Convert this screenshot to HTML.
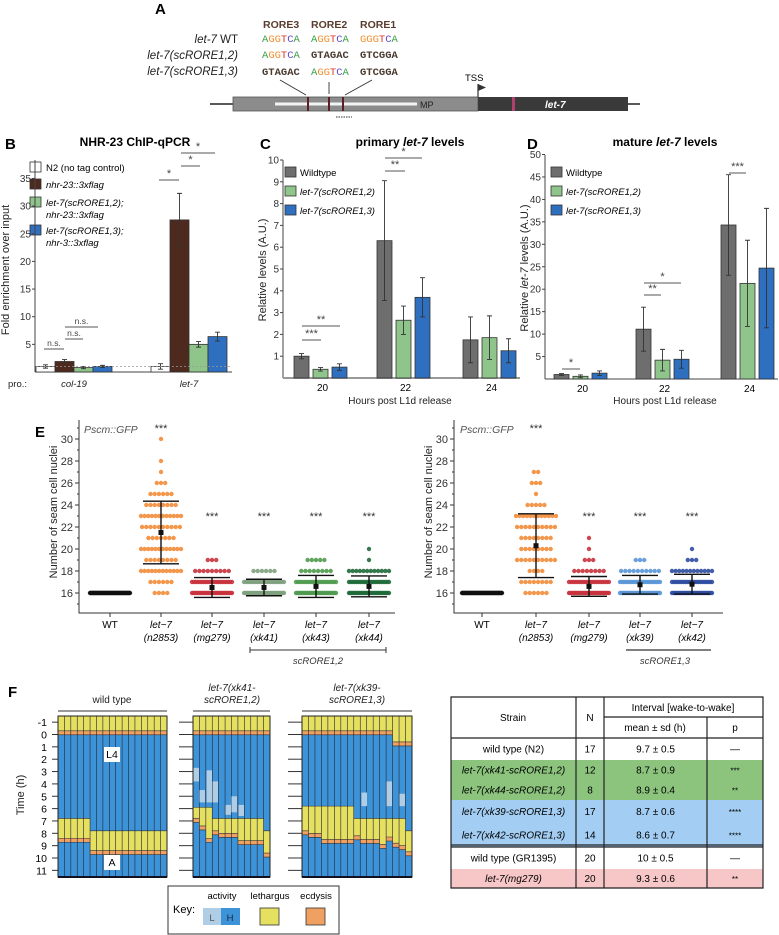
<!DOCTYPE html>
<html><head><meta charset="utf-8"><style>
body{margin:0;background:#fff;}
svg{display:block;font-family:"Liberation Sans",sans-serif;}
</style></head><body>
<svg id="fig" width="779" height="935" viewBox="0 0 779 935" xmlns="http://www.w3.org/2000/svg">
<!-- PANEL A -->
<g>
<text x="155" y="14" font-size="15" font-weight="bold">A</text>
<g font-size="10.5" font-weight="bold" fill="#5a3c2c">
<text x="263" y="28">RORE3</text>
<text x="311" y="28">RORE2</text>
<text x="360" y="28">RORE1</text>
</g>
<g font-size="11.5" text-anchor="end" fill="#222">
<text x="238" y="43"><tspan font-style="italic">let-7</tspan> WT</text>
<text x="238" y="59" font-style="italic">let-7(scRORE1,2)</text>
<text x="238" y="75" font-style="italic">let-7(scRORE1,3)</text>
</g>
<g font-family="Liberation Mono, monospace" font-size="10.5">
<text x="262" y="42"><tspan fill="#3aa04a">A</tspan><tspan fill="#f0902c">GG</tspan><tspan fill="#d8342c">T</tspan><tspan fill="#5b4ad0">C</tspan><tspan fill="#3aa04a">A</tspan></text>
<text x="311" y="42"><tspan fill="#3aa04a">A</tspan><tspan fill="#f0902c">GG</tspan><tspan fill="#d8342c">T</tspan><tspan fill="#5b4ad0">C</tspan><tspan fill="#3aa04a">A</tspan></text>
<text x="360" y="42"><tspan fill="#f0902c">GGG</tspan><tspan fill="#d8342c">T</tspan><tspan fill="#5b4ad0">C</tspan><tspan fill="#3aa04a">A</tspan></text>
<text x="262" y="58"><tspan fill="#3aa04a">A</tspan><tspan fill="#f0902c">GG</tspan><tspan fill="#d8342c">T</tspan><tspan fill="#5b4ad0">C</tspan><tspan fill="#3aa04a">A</tspan></text>
<text x="311" y="58" font-weight="bold" fill="#4a3a30">GTAGAC</text>
<text x="360" y="58" font-weight="bold" fill="#4a3a30">GTCGGA</text>
<text x="262" y="75" font-weight="bold" fill="#4a3a30">GTAGAC</text>
<text x="311" y="75"><tspan fill="#3aa04a">A</tspan><tspan fill="#f0902c">GG</tspan><tspan fill="#d8342c">T</tspan><tspan fill="#5b4ad0">C</tspan><tspan fill="#3aa04a">A</tspan></text>
<text x="360" y="75" font-weight="bold" fill="#4a3a30">GTCGGA</text>
</g>
<line x1="210" y1="104" x2="640" y2="104" stroke="#222" stroke-width="1.5"/>
<rect x="233" y="97" width="245" height="14" fill="#8c8c8c" stroke="#555" stroke-width="0.8"/>
<rect x="275" y="102.5" width="142" height="3" fill="#f4f4f4"/>
<text x="420" y="108" font-size="9" fill="#222">MP</text>
<rect x="478" y="97" width="150" height="14" fill="#3a3a3a"/>
<rect x="512" y="97" width="3" height="14" fill="#b04070"/>
<text x="545" y="108" font-size="10" font-style="italic" font-weight="bold" fill="#fff">let-7</text>
<g stroke="#5a2020" stroke-width="2">
<line x1="308" y1="97" x2="308" y2="111"/>
<line x1="329" y1="97" x2="329" y2="111"/>
<line x1="343" y1="97" x2="343" y2="111"/>
</g>
<g stroke="#333" stroke-width="0.9">
<line x1="280" y1="80" x2="306" y2="95"/>
<line x1="329" y1="82" x2="329" y2="94"/>
<line x1="372" y1="80" x2="345" y2="95"/>
<line x1="336" y1="117" x2="352" y2="117" stroke-dasharray="1.5,1"/>
</g>
<text x="465" y="81" font-size="9.5">TSS</text>
<line x1="478" y1="97" x2="478" y2="84" stroke="#333" stroke-width="1.2"/>
<polygon points="478,84 478,91 486,87.5" fill="#333"/>
</g>

<!-- PANEL LABELS & STATIC TEXT -->
<g font-weight="bold">
<text x="5" y="149" font-size="15">B</text>
<text x="135" y="146" font-size="12" text-anchor="middle">NHR-23 ChIP-qPCR</text>
<text x="260" y="149" font-size="15">C</text>
<text x="410" y="146" font-size="12" text-anchor="middle">primary <tspan font-style="italic">let-7</tspan> levels</text>
<text x="527" y="149" font-size="15">D</text>
<text x="665" y="146" font-size="12" text-anchor="middle">mature <tspan font-style="italic">let-7</tspan> levels</text>
<text x="35" y="437" font-size="15">E</text>
<text x="8" y="697" font-size="15">F</text>
</g>
<g font-size="11" fill="#222">
<text transform="translate(9,270) rotate(-90)" text-anchor="middle">Fold enrichment over input</text>
<text transform="translate(266,270) rotate(-90)" text-anchor="middle">Relative levels (A.U.)</text>
<text transform="translate(528,268) rotate(-90)" text-anchor="middle">Relative <tspan font-style="italic">let-7</tspan> levels (A.U.)</text>
<text x="400" y="404" text-anchor="middle" font-size="10">Hours post L1d release</text>
<text x="665" y="404" text-anchor="middle" font-size="10">Hours post L1d release</text>
<text x="8" y="387" font-size="9.5">pro.:</text>
<text x="74" y="387" font-size="9.5" font-style="italic" text-anchor="middle">col-19</text>
<text x="189" y="387" font-size="9.5" font-style="italic" text-anchor="middle">let-7</text>
<text transform="translate(57,512) rotate(-90)" text-anchor="middle">Number of seam cell nuclei</text>
<text transform="translate(432,512) rotate(-90)" text-anchor="middle">Number of seam cell nuclei</text>
<text x="84" y="433" font-size="10.5" font-style="italic" fill="#555">Pscm::GFP</text>
<text x="460" y="433" font-size="10.5" font-style="italic" fill="#555">Pscm::GFP</text>
</g>
<!-- B legend -->
<g font-size="9.5">
<rect x="30" y="162" width="11" height="10" fill="#fff" stroke="#333" stroke-width="0.8"/>
<text x="46" y="171">N2 (no tag control)</text>
<rect x="30" y="179" width="11" height="10" fill="#4e2a1e" stroke="#333" stroke-width="0.8"/>
<text x="46" y="188" font-style="italic">nhr-23::3xflag</text>
<rect x="30" y="197" width="11" height="10" fill="#8fc48a" stroke="#333" stroke-width="0.8"/>
<text x="46" y="206" font-style="italic">let-7(scRORE1,2);</text>
<text x="46" y="218" font-style="italic">nhr-23::3xflag</text>
<rect x="30" y="225" width="11" height="10" fill="#2f6fc0" stroke="#333" stroke-width="0.8"/>
<text x="46" y="234" font-style="italic">let-7(scRORE1,3);</text>
<text x="46" y="246" font-style="italic">nhr-3::3xflag</text>
</g>
<g font-size="9.5">
<rect x="285" y="167" width="11" height="10" fill="#6e6e6e" stroke="#333" stroke-width="0.8"/>
<text x="300" y="176">Wildtype</text>
<rect x="285" y="186" width="11" height="10" fill="#8fc48a" stroke="#333" stroke-width="0.8"/>
<text x="300" y="195" font-style="italic">let-7(scRORE1,2)</text>
<rect x="285" y="205" width="11" height="10" fill="#2f6fc0" stroke="#333" stroke-width="0.8"/>
<text x="300" y="214" font-style="italic">let-7(scRORE1,3)</text>
</g>
<g font-size="9.5">
<rect x="551" y="167" width="11" height="10" fill="#6e6e6e" stroke="#333" stroke-width="0.8"/>
<text x="566" y="176">Wildtype</text>
<rect x="551" y="186" width="11" height="10" fill="#8fc48a" stroke="#333" stroke-width="0.8"/>
<text x="566" y="195" font-style="italic">let-7(scRORE1,2)</text>
<rect x="551" y="205" width="11" height="10" fill="#2f6fc0" stroke="#333" stroke-width="0.8"/>
<text x="566" y="214" font-style="italic">let-7(scRORE1,3)</text>
</g>
<!-- E brackets -->
<g font-size="9.5" font-style="italic" fill="#333">
<line x1="250" y1="650" x2="386" y2="650" stroke="#333"/>
<line x1="250" y1="647" x2="250" y2="653" stroke="#333"/><line x1="386" y1="647" x2="386" y2="653" stroke="#333"/>
<text x="318" y="664" text-anchor="middle">scRORE1,2</text>
<line x1="626" y1="650" x2="711" y2="650" stroke="#555" stroke-width="1.5"/>
<text x="665" y="664" text-anchor="middle">scRORE1,3</text>
</g>
<!-- F headings -->
<g font-size="10" fill="#222" text-anchor="middle">
<text x="112" y="703">wild type</text>
<text x="232" y="691" font-style="italic">let-7(xk41-</text>
<text x="232" y="703" font-style="italic">scRORE1,2)</text>
<text x="357" y="691" font-style="italic">let-7(xk39-</text>
<text x="357" y="703" font-style="italic">scRORE1,3)</text>
<text transform="translate(24,795) rotate(-90)" font-size="11">Time (h)</text>
</g>
<!-- F key -->
<g font-size="9.5">
<rect x="168" y="886" width="171" height="48" fill="#fff" stroke="#333"/>
<text x="173" y="913" font-size="11">Key:</text>
<text x="222" y="899" text-anchor="middle">activity</text>
<text x="270" y="899" text-anchor="middle">lethargus</text>
<text x="316" y="899" text-anchor="middle">ecdysis</text>
<rect x="203" y="908" width="18" height="17" fill="#b0cde6"/>
<rect x="221" y="908" width="19" height="17" fill="#3d93d8"/>
<text x="212" y="921" text-anchor="middle" fill="#555">L</text>
<text x="230" y="921" text-anchor="middle" fill="#224">H</text>
<rect x="260" y="908" width="19" height="17" fill="#e5e060" stroke="#333" stroke-width="0.8"/>
<rect x="306" y="908" width="19" height="17" fill="#f0a060" stroke="#333" stroke-width="0.8"/>
</g>
<g id="dyn"></g>
</svg>
<script>
// ---------- DATA ----------
// Panel B
const bGroups = ['col-19','let-7'];
const bN2 = [1.0, 1.0];
const bNhr23 = [1.9, 27.5];
const bS12 = [0.8, 5.0];
const bS13 = [1.0, 6.4];
const bN2Err = [0.3, 0.5];
const bNhr23Err = [0.35, 4.8];
const bS12Err = [0.2, 0.5];
const bS13Err = [0.2, 0.8];
const bTicks = [5,10,15,20,25,30,35];
// Panel C
const cHours = ['20','22','24'];
const cWt = [1.0, 6.3, 1.75];
const cS12 = [0.4, 2.65, 1.85];
const cS13 = [0.5, 3.7, 1.25];
const cWtErr = [0.12, 2.75, 1.05];
const cS12Err = [0.08, 0.65, 1.0];
const cS13Err = [0.15, 0.9, 0.55];
const cTicks = [1,2,3,4,5,6,7,8,9,10];
// Panel D
const dHours = ['20','22','24'];
const dWt = [1.0, 11.1, 34.3];
const dS12 = [0.6, 4.2, 21.3];
const dS13 = [1.3, 4.4, 24.7];
const dWtErr = [0.2, 4.9, 11.2];
const dS12Err = [0.3, 2.4, 9.6];
const dS13Err = [0.5, 2.0, 13.3];
const dTicks = [5,10,15,20,25,30,35,40,45,50];
// Panel E (count of animals at each seam-cell value 16..30)
const eValues = [16,17,18,19,20,21,22,23,24,25,26,27,28,29,30];
const eLeftCats = ['WT','n2853','mg279','xk41','xk43','xk44'];
const eLeftWT    = [60,0,0,0,0,0,0,0,0,0,0,0,0,0,0];
const eLeftN2853 = [4,6,12,8,12,7,10,12,8,6,3,1,1,0,1];
const eLeftMg279 = [30,22,9,3,0,0,0,0,0,0,0,0,0,0,0];
const eLeftXk41  = [30,22,6,0,0,0,0,0,0,0,0,0,0,0,0];
const eLeftXk43  = [30,20,8,5,0,0,0,0,0,0,0,0,0,0,0];
const eLeftXk44  = [30,22,12,1,1,0,0,0,0,0,0,0,0,0,0];
const eLeftMean = [16, 21.5, 16.5, 16.5, 16.6, 16.6];
const eLeftSd   = [0, 2.85, 0.9, 0.75, 1.0, 0.95];
const eRightCats = ['WT','n2853','mg279','xk39','xk42'];
const eRightWT    = [60,0,0,0,0,0,0,0,0,0,0,0,0,0,0];
const eRightN2853 = [6,8,4,10,8,8,10,12,5,1,3,2,0,0,0];
const eRightMg279 = [30,20,8,3,1,1,0,0,0,0,0,0,0,0,0];
const eRightXk39  = [30,22,10,3,0,0,0,0,0,0,0,0,0,0,0];
const eRightXk42  = [30,22,12,3,1,0,0,0,0,0,0,0,0,0,0];
const eRightMean = [16, 20.3, 16.6, 16.75, 16.8];
const eRightSd   = [0, 2.9, 0.9, 0.85, 0.9];
const eTicks = [16,18,20,22,24,26,28,30];
// Panel F: lethargus onset and ecdysis (h) per animal
const fWtLeth = [6.8,6.8,6.8,6.8,6.8,7.8,7.8,7.8,7.8,7.8,7.8,7.8,7.8,7.8,7.8,7.8,7.8];
const fWtEcd  = [8.4,8.4,8.4,8.4,8.4,9.4,9.4,9.4,9.4,9.4,9.4,9.4,9.4,9.4,9.4,9.4,9.4];
const fXk41Leth = [5.9,5.9,5.9,6.8,6.8,6.8,6.8,6.8,6.8,6.8,6.8,7.8];
const fXk41Ecd  = [6.8,7.4,8.4,7.8,8.0,8.0,8.0,8.6,8.6,8.6,8.6,9.6];
const fXk39Leth = [5.8,5.8,5.8,5.8,5.8,5.8,5.8,5.8,6.8,6.8,6.8,6.8,6.8,6.8,6.8,6.8,7.8];
const fXk39Ecd  = [7.8,8.0,8.0,8.5,8.5,8.5,8.5,8.5,8.2,8.5,8.5,8.5,8.9,8.3,8.8,9.0,9.5];
const fTicks = [-1,0,1,2,3,4,5,6,7,8,9,10,11];
// Table
const tStrains = ['wild type (N2)','let-7(xk41-scRORE1,2)','let-7(xk44-scRORE1,2)','let-7(xk39-scRORE1,3)','let-7(xk42-scRORE1,3)','wild type (GR1395)','let-7(mg279)'];
const tN = ['17','12','8','17','14','20','20'];
const tMean = ['9.7 ± 0.5','8.7 ± 0.9','8.9 ± 0.4','8.7 ± 0.6','8.6 ± 0.7','10 ± 0.5','9.3 ± 0.6'];
const tP = ['—','***','**','****','****','—','**'];

// ---------- DRAWING ----------
const NS='http://www.w3.org/2000/svg';
const root=document.getElementById('dyn');
function mk(tag, a, parent){const e=document.createElementNS(NS,tag);for(const k in a)e.setAttribute(k,a[k]);(parent||root).appendChild(e);return e;}
function txt(s,a,parent){const e=mk('text',a,parent);e.textContent=s;return e;}

function barPanel(cfg){
  const y=v=>cfg.y0-(v)*cfg.ppu;
  const ax=mk('line',{x1:cfg.ax,y1:cfg.top,x2:cfg.ax,y2:cfg.y0,stroke:'#444','stroke-width':1});
  
  
  const bx=mk('line',{x1:cfg.ax,y1:cfg.y0,x2:cfg.axEnd,y2:cfg.y0,stroke:cfg.xColor||'#444','stroke-width':cfg.xw||1});
  
  
  cfg.ticks.forEach(t=>{
    const l=mk('line',{x1:cfg.ax-3,y1:y(t),x2:cfg.ax,y2:y(t),stroke:'#444'});
    
    
    const tl=txt(String(t),{x:cfg.ax-4,y:y(t)+3.5,'font-size':10,'text-anchor':'end',fill:'#333'});
    
    
  });
  cfg.series.forEach((s,si)=>{
    s.vals.forEach((v,gi)=>{
      const x=cfg.groupX[gi]+si*cfg.step;
      const r=mk('rect',{x:x,y:y(v),width:cfg.bw,height:v*cfg.ppu,fill:s.color,stroke:'#333','stroke-width':0.8});
      
      
      const cx=x+cfg.bw/2,e=s.err[gi];
      const el=mk('path',{d:`M${cx},${y(v+e)}V${y(Math.max(0,v-e))}M${cx-2.5},${y(v+e)}h5M${cx-2.5},${y(Math.max(0,v-e))}h5`,stroke:'#333','stroke-width':0.9,fill:'none'});
      
      
    });
  });
  if(cfg.catLabels) cfg.cats.forEach((c,gi)=>{
    const t=txt(c,{x:cfg.groupX[gi]+(cfg.step*cfg.series.length)/2,y:cfg.y0+13,'font-size':10,'text-anchor':'middle'});
    
    
  });
  (cfg.sig||[]).forEach(sg=>{
    const l=mk('line',{x1:sg[0],y1:sg[2],x2:sg[1],y2:sg[2],stroke:'#555'});
    
    
    const t=txt(sg[3],{x:(sg[0]+sg[1])/2,y:sg[2]-3,'font-size':sg[3]==='n.s.'?8.5:11,'text-anchor':'middle',fill:'#444'});
    
    
  });
  return y;
}

const yB=barPanel({id:'b',ax:35,top:160,y0:372,axEnd:232,ppu:5.53,ticks:bTicks,cats:bGroups,groupX:[36,151],bw:19,step:19,
  series:[{name:'n2',vals:bN2,err:bN2Err,color:'#fff'},{name:'nhr23',vals:bNhr23,err:bNhr23Err,color:'#4e2a1e'},{name:'s12',vals:bS12,err:bS12Err,color:'#8fc48a'},{name:'s13',vals:bS13,err:bS13Err,color:'#2f6fc0'}],
  sig:[[44,64,349,'n.s.'],[65,83,339,'n.s.'],[65,98,327,'n.s.'],[159,179,180,'*'],[181,200,166,'*'],[181,215,153,'*']]});
const dl=mk('line',{x1:36,y1:yB(1),x2:232,y2:yB(1),stroke:'#999','stroke-dasharray':'2,2','stroke-width':0.7});



barPanel({id:'c',ax:283,top:160,y0:378,axEnd:520,ppu:21.8,ticks:cTicks,cats:cHours,groupX:[294,377,463],bw:15,step:19,catLabels:true,xColor:'#999',xw:2,
  series:[{name:'wt',vals:cWt,err:cWtErr,color:'#6e6e6e'},{name:'s12',vals:cS12,err:cS12Err,color:'#8fc48a'},{name:'s13',vals:cS13,err:cS13Err,color:'#2f6fc0'}],
  sig:[[302,321,340,'***'],[302,340,326,'**'],[385,405,171,'**'],[385,422,158,'*']]});
barPanel({id:'d',ax:545,top:155,y0:379,axEnd:778,ppu:4.49,ticks:dTicks,cats:dHours,groupX:[554,636,721],bw:15,step:19,catLabels:true,
  series:[{name:'wt',vals:dWt,err:dWtErr,color:'#6e6e6e'},{name:'s12',vals:dS12,err:dS12Err,color:'#8fc48a'},{name:'s13',vals:dS13,err:dS13Err,color:'#2f6fc0'}],
  sig:[[562,580,369,'*'],[644,661,295,'**'],[644,681,283,'*'],[729,746,173,'***']]});

// Panel E
function dotPanel(id,ax,axEnd,catX,cats,names,counts,colors,means,sds){
  const y=v=>593-(v-16)*11;
  const a=mk('path',{d:`M${ax},420V613H${axEnd}`,stroke:'#333',fill:'none'});
  
  
  for(let v=15;v<=31;v++){const t=mk('line',{x1:ax-(v%2?2:4),y1:y(v),x2:ax,y2:y(v),stroke:'#333'});
    
    }
  eTicks.forEach(v=>{const t=txt(String(v),{x:ax-6,y:y(v)+4,'font-size':11,'text-anchor':'end',fill:'#333'});
    
    });
  cats.forEach((c,i)=>{
    const cx=catX[i];
    const tk=mk('line',{x1:cx,y1:613,x2:cx,y2:617,stroke:'#333'});
    
    
    if(c==='WT'){const t=txt('WT',{x:cx,y:628,'font-size':10,'text-anchor':'middle'});
      
      }
    else{const t=txt('let−7',{x:cx,y:628,'font-size':10,'font-style':'italic','text-anchor':'middle'});
      
      
      const t2=txt('('+c+')',{x:cx,y:641,'font-size':10,'font-style':'italic','text-anchor':'middle'});
      
      }
    const arr=counts[i];
    arr.forEach((n,k)=>{
      if(!n)return;
      const v=eValues[k];
      const half=Math.min(20,(n-1)*2.1);
      for(let j=0;j<n;j++){
        const dx=n===1?0:-half+2*half*j/(n-1);
        const d=mk('circle',{cx:cx+dx,cy:y(v),r:2.2,fill:colors[i],opacity:0.9});
        
        
      }
    });
    if(sds[i]>0){
      const lo=y(means[i]-sds[i]),hi=y(means[i]+sds[i]);
      const e=mk('path',{d:`M${cx},${hi}V${lo}M${cx-18},${hi}h36M${cx-18},${lo}h36`,stroke:'#111','stroke-width':1.4,fill:'none'});
      
      
      const m=mk('rect',{x:cx-2.5,y:y(means[i])-2.5,width:5,height:5,fill:'#111'});
      
      
      const s=txt('***',{x:cx,y:c==='n2853'?432:520,'font-size':11,'text-anchor':'middle',fill:'#333'});
      
      
    }
  });
}
dotPanel('e-left',79,395,[110,161,212,264,316,369],eLeftCats,null,[eLeftWT,eLeftN2853,eLeftMg279,eLeftXk41,eLeftXk43,eLeftXk44],['#111','#f28c38','#c8323c','#7ea07e','#4f9a4f','#1f6a3a'],eLeftMean,eLeftSd);
dotPanel('e-right',454,723,[482,536,589,640,692],eRightCats,null,[eRightWT,eRightN2853,eRightMg279,eRightXk39,eRightXk42],['#111','#f28c38','#c8323c','#5a96d6','#2d4da0'],eRightMean,eRightSd);

// Panel F ethograms
const fy=h=>734.5+h*12.35;
fTicks.forEach(h=>{const t=txt(String(h),{x:47,y:fy(h)+4,'font-size':10.5,'text-anchor':'end'});
  
  });
function etho(id,x0,x1,leth,ecd,topShift){
  const n=leth.length,w=(x1-x0)/n;
  const br=mk('line',{x1:x0,y1:711,x2:x1,y2:711,stroke:'#333'});
  
  
  fTicks.forEach(h=>{const t=mk('line',{x1:x0-(id==='f-wt'?6:14),y1:fy(h),x2:x0,y2:fy(h),stroke:'#333'});
    
    });
  for(let i=0;i<n;i++){
    const x=x0+i*w,s=(topShift&&topShift[i])||0;
    const g=mk('g',{});
    
    
    mk('rect',{x:x,y:716,width:w,height:877-716,fill:'#3d93d8'},g);
    mk('rect',{x:x,y:716,width:w,height:fy(-0.3+s)-716,fill:'#e5e060'},g);
    mk('rect',{x:x,y:fy(-0.3+s),width:w,height:4,fill:'#f0a060'},g);
    mk('rect',{x:x,y:fy(leth[i]),width:w,height:fy(ecd[i])-fy(leth[i]),fill:'#e5e060'},g);
    mk('rect',{x:x,y:fy(ecd[i]),width:w,height:4,fill:'#f0a060'},g);
    mk('path',{d:`M${x},${fy(-0.3+s)}h${w}M${x},${fy(-0.3+s)+4}h${w}M${x},${fy(leth[i])}h${w}M${x},${fy(ecd[i])}h${w}M${x},${fy(ecd[i])+4}h${w}`,stroke:'#333','stroke-width':0.6},g);
    mk('line',{x1:x,y1:716,x2:x,y2:877,stroke:'#223','stroke-width':0.6},g);
  }
  const f=mk('rect',{x:x0,y:716,width:x1-x0,height:161,fill:'none',stroke:'#222','stroke-width':1});
  
  
  const bl=mk('line',{x1:x0,y1:877,x2:x1,y2:877,stroke:'#112','stroke-width':2});
  
  
}
etho('f-wt',58,167,fWtLeth,fWtEcd);
etho('f-xk41',193,270,fXk41Leth,fXk41Ecd);
etho('f-xk39',302,412,fXk39Leth,fXk39Ecd,[0,0,0,0,0,0,0,0,0,0,0,0,0,0,0.9,0.9,0.9]);
// low-activity patches
[[193,2.7,3.8],[206,2.9,5.5],[212,3.8,5.5],[199,4.5,5.5],[231,5.0,6.3],[225,5.7,6.5],[238,5.7,6.6],[361,4.7,5.8],[386,3.8,5.8],[399,4.8,5.8]].forEach(p=>{
  const r=mk('rect',{x:p[0]+0.5,y:fy(p[1]),width:5.5,height:fy(p[2])-fy(p[1]),fill:'#b0cde6'});
  
  
});
[['L4',112,758],['A',112,866]].forEach(p=>{
  const r=mk('rect',{x:p[1]-8,y:p[2]-11,width:16,height:15,fill:'#fff'});
  
  
  const t=txt(p[0],{x:p[1],y:p[2],'font-size':10.5,'text-anchor':'middle'});
  
  
});

// Table
const tx=[451,576,604,707,763];
const rowY=[738,760,780,800,823,847,869,888];
const rowFill=['#fff','#8cc47e','#8cc47e','#a3cdf2','#a3cdf2','#fff','#f7c6c6'];
const tg=mk('g',{'font-size':10});


tStrains.forEach((s,i)=>{
  const r=mk('rect',{x:451,y:rowY[i],width:312,height:rowY[i+1]-rowY[i],fill:rowFill[i]},tg);
  
  
  const cy=(rowY[i]+rowY[i+1])/2+3.5;
  const ital=s.startsWith('let');
  const a=txt(s,{x:(tx[0]+tx[1])/2,y:cy,'text-anchor':'middle','font-style':ital?'italic':'normal'},tg);
  
  
  const b=txt(tN[i],{x:(tx[1]+tx[2])/2,y:cy,'text-anchor':'middle'},tg);
  
  
  const c=txt(tMean[i],{x:(tx[2]+tx[3])/2,y:cy,'text-anchor':'middle'},tg);
  
  
  const d=txt(tP[i],{x:(tx[3]+tx[4])/2,y:cy,'text-anchor':'middle','font-size':tP[i]==='—'?10:8},tg);
  
  
});
const th=txt('Strain',{x:513,y:721,'text-anchor':'middle'},tg);


const thn=txt('N',{x:590,y:721,'text-anchor':'middle'},tg);


const thi=txt('Interval [wake-to-wake]',{x:683,y:711,'text-anchor':'middle'},tg);


const thm=txt('mean ± sd (h)',{x:655,y:731,'text-anchor':'middle'},tg);


const thp=txt('p',{x:735,y:731,'text-anchor':'middle'},tg);


const grid=mk('path',{d:`M451,697H763V888H451Z M576,697V888 M604,697V888 M707,717V888 M604,717H763 M451,738H763 M451,845H763 M451,847H763`,fill:'none',stroke:'#222','stroke-width':1.2},tg);


</script>
</body></html>
